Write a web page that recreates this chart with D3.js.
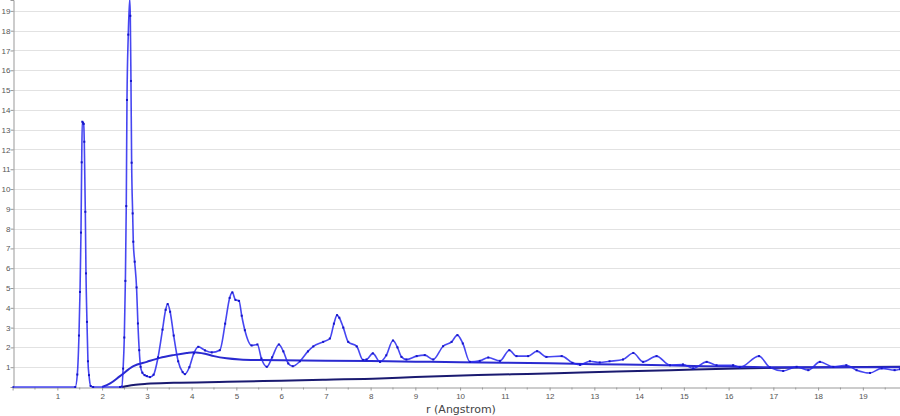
<!DOCTYPE html>
<html>
<head>
<meta charset="utf-8">
<script src="https://cdn.jsdelivr.net/npm/d3@7"></script>
<style>
  body { margin: 0; background: #fff; }
  svg { display: block; font-family: "DejaVu Sans", Verdana, sans-serif; }
</style>
</head>
<body>
<svg id="chart"></svg>
<script>
// main g(r) curve (blue, with markers)
const rMain = [0, 1.40, 1.446, 1.483, 1.506, 1.528, 1.544, 1.557, 1.575, 1.588, 1.602, 1.625, 1.64, 1.662, 1.684, 1.707, 1.745, 1.80,
  2.40, 2.44, 2.47, 2.496, 2.52, 2.54, 2.556, 2.585, 2.616, 2.63, 2.645, 2.66, 2.683, 2.697, 2.728, 2.77, 2.80, 2.83, 2.86, 2.90, 2.95,
  3.0, 3.07, 3.15, 3.25, 3.35, 3.42, 3.465, 3.52, 3.6, 3.7, 3.8, 3.85, 3.95, 4.05, 4.15, 4.3, 4.45, 4.63, 4.75, 4.85, 4.91, 4.98,
  5.06, 5.12, 5.19, 5.34, 5.47, 5.56, 5.68, 5.8, 5.95, 6.05, 6.16, 6.26, 6.42, 6.6, 6.72, 6.94, 7.09, 7.18, 7.25, 7.3, 7.39, 7.5,
  7.69, 7.83, 7.91, 8.05, 8.21, 8.35, 8.5, 8.6, 8.69, 8.8, 9.03, 9.21, 9.4, 9.62, 9.81, 9.94, 10.06, 10.22, 10.44, 10.63, 10.89,
  11.1, 11.26, 11.52, 11.72, 11.93, 12.27, 12.51, 12.68, 12.9, 13.12, 13.34, 13.64, 13.87, 14.09, 14.39, 14.69, 14.98, 15.21,
  15.51, 15.73, 16.1, 16.25, 16.68, 16.92, 17.22, 17.52, 17.78, 18.04, 18.34, 18.63, 18.86, 19.16, 19.42, 19.71, 19.83];
const gMain = [0, 0, 0.63, 2.6, 4.8, 7.8, 11.35, 13.4, 13.35, 13.29, 12.39, 8.85, 5.74, 3.29, 1.3, 0.6, 0.05, 0,
  0, 0.02, 0.93, 2.5, 5.36, 9.14, 14.5, 17.8, 19.6, 18.75, 15.46, 11.33, 8.77, 7.34, 6.33, 5.03, 3.21, 1.86, 1.02, 0.72, 0.6,
  0.55, 0.5, 0.62, 1.5, 2.9, 3.9, 4.19, 3.8, 2.6, 1.3, 0.75, 0.65, 1.0, 1.7, 2.03, 1.85, 1.75, 1.86, 3.2, 4.5, 4.78, 4.4,
  4.35, 3.6, 2.87, 2.1, 2.15, 1.44, 1.02, 1.5, 2.15, 1.8, 1.19, 1.05, 1.3, 1.8, 2.05, 2.28, 2.45, 3.2, 3.63, 3.5, 3.0, 2.28,
  2.05, 1.37, 1.39, 1.7, 1.27, 1.6, 2.35, 2.0, 1.52, 1.39, 1.56, 1.61, 1.39, 2.06, 2.28, 2.62, 2.2, 1.27, 1.32, 1.49, 1.32,
  1.86, 1.56, 1.56, 1.81, 1.52, 1.56, 1.22, 1.12, 1.3, 1.24, 1.3, 1.39, 1.72, 1.27, 1.56, 1.1, 1.14, 0.94,
  1.27, 1.1, 1.1, 0.99, 1.56, 0.99, 0.81, 1.02, 0.85, 1.27, 1.02, 1.1, 0.85, 0.71, 0.94, 0.85, 0.9];

// second curve (blue, smooth)
const rSecond = [2.0, 2.18, 2.4, 2.7, 3.0, 3.29, 3.59, 3.89, 4.05, 4.3, 4.5, 4.78, 5.08, 5.5, 6.0, 7.0, 8.0, 9.0, 10.0,
  11.0, 12.0, 13.0, 14.0, 15.0, 16.0, 17.0, 18.0, 19.0, 19.83];
const gSecond = [0, 0.18, 0.55, 1.05, 1.27, 1.47, 1.61, 1.72, 1.76, 1.68, 1.56, 1.45, 1.39, 1.36, 1.35, 1.33, 1.31, 1.28, 1.25,
  1.23, 1.2, 1.15, 1.12, 1.07, 1.03, 1.0, 1.0, 1.0, 1.0];

// third curve (navy, slow rise)
const rThird = [2.45, 2.7, 3.0, 3.6, 4.8, 6.0, 7.0, 8.2, 9.0, 10.4, 11.5, 12.7, 13.5, 14.7, 16.2, 17.7, 19.0, 19.83];
const gThird = [0, 0.1, 0.16, 0.21, 0.26, 0.32, 0.37, 0.43, 0.5, 0.6, 0.66, 0.73, 0.78, 0.85, 0.94, 0.99, 1.01, 1.02];

const xTicks = d3.range(1, 20);
const yTicks = d3.range(1, 20);

let width = 900;
let height = 416;
let margin = { top: 0, right: 0, bottom: 29, left: 12.6 };

let svg = d3.select('#chart').attr('width', width).attr('height', height);

let x = d3.scaleLinear().domain([0, 19.83]).range([margin.left, width - margin.right]);
let y = d3.scaleLinear().domain([0, 19.55]).range([height - margin.bottom, margin.top]);

// grid
svg.append('g')
  .selectAll('line')
  .data(yTicks)
  .enter()
  .append('line')
  .attr('x1', margin.left)
  .attr('x2', width)
  .attr('y1', (d) => Math.round(y(d)) + 0.5)
  .attr('y2', (d) => Math.round(y(d)) + 0.5)
  .attr('stroke', '#e2e2e2');

// axes
let xAxis = d3.axisBottom(x).tickValues(xTicks).tickSize(3).tickFormat(d3.format('d'));
let yAxis = d3.axisLeft(y).tickValues(yTicks).tickSize(3).tickFormat(d3.format('d'));

let gx = svg.append('g')
  .attr('transform', `translate(0, ${Math.round(y(0)) + 0.5})`)
  .call(xAxis);
let gy = svg.append('g')
  .attr('transform', `translate(${Math.round(margin.left) + 0.5}, 0)`)
  .call(yAxis);

// minor ticks on x
svg.append('g')
  .selectAll('line')
  .data(d3.range(0.5, 19.83, 1))
  .enter()
  .append('line')
  .attr('x1', (d) => x(d))
  .attr('x2', (d) => x(d))
  .attr('y1', Math.round(y(0)) + 0.5)
  .attr('y2', Math.round(y(0)) + 2.5)
  .attr('stroke', '#999');

[gx, gy].forEach((g) => {
  g.select('.domain').attr('stroke', '#999');
  g.selectAll('.tick line').attr('stroke', '#999');
  g.selectAll('.tick text').attr('fill', '#555').style('font-size', '8px');
});
gy.selectAll('.tick text').attr('x', -3);
gx.selectAll('.tick text').attr('y', 6);

svg.append('text')
  .attr('x', 461)
  .attr('y', 413)
  .attr('text-anchor', 'middle')
  .attr('fill', '#444')
  .style('font-size', '11px')
  .text('r (Angstrom)');

// curves
let line = d3.line().curve(d3.curveMonotoneX).x((d) => x(d[0])).y((d) => y(d[1]));
svg.append('clipPath').attr('id', 'clip').append('rect')
  .attr('x', margin.left).attr('y', 0).attr('width', width - margin.left).attr('height', y(0) + 1);

let plot = svg.append('g').attr('clip-path', 'url(#clip)');

let third = d3.zip(rThird, gThird);
let second = d3.zip(rSecond, gSecond);
let main = d3.zip(rMain, gMain);

plot.append('path').datum(third)
  .attr('d', line).attr('fill', 'none').attr('stroke', '#1a1a70').attr('stroke-width', 2);
plot.append('path').datum(second)
  .attr('d', line).attr('fill', 'none').attr('stroke', '#2a2ad0').attr('stroke-width', 2);
plot.append('path').datum(main)
  .attr('d', line).attr('fill', 'none').attr('stroke', '#2626ee').attr('stroke-width', 1.6)
  .attr('stroke-opacity', 0.85);

plot.selectAll('rect.pt')
  .data(main)
  .enter()
  .append('rect')
  .attr('class', 'pt')
  .attr('x', (d) => x(d[0]) - 1)
  .attr('y', (d) => y(d[1]) - 1)
  .attr('width', 2)
  .attr('height', 2)
  .attr('fill', '#1616c8');
</script>
</body>
</html>
